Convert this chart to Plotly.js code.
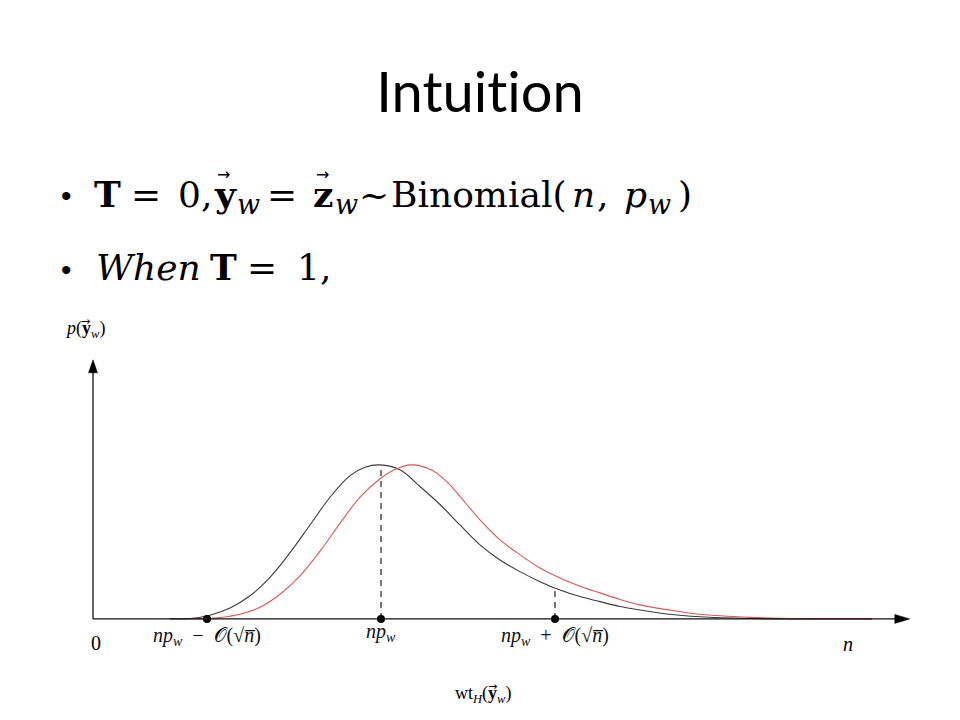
<!DOCTYPE html>
<html>
<head>
<meta charset="utf-8">
<script src="https://cdn.plot.ly/plotly-3.0.1.min.js"></script>
<style>html,body{margin:0;padding:0;background:#fff;}#chart{width:960px;height:720px;}</style>
</head>
<body>
<div id="chart"></div>
<script>
// Black curve: Binomial(n, p_w) density (T = 0)
const blackX = [9.625, 12.125, 14.625, 17.125, 19.625, 22.125, 24.625, 27.125, 29.625, 32.125, 34.0, 35.875, 38.375, 40.875, 43.375, 45.875, 48.375, 50.875, 53.375, 55.875, 58.375, 60.875, 63.375, 65.875, 68.375, 71.75, 75.875, 82.125, 88.375, 97.375];
const blackY = [0, 0.002, 0.024, 0.07, 0.15, 0.27, 0.43, 0.61, 0.79, 0.93, 0.985, 1.0, 0.968, 0.86, 0.743, 0.61, 0.481, 0.383, 0.307, 0.242, 0.188, 0.145, 0.112, 0.080, 0.058, 0.032, 0.014, 0.003, 0, 0];
// Red curve: shifted density (T = 1)
const redX = [12.125, 14.625, 15.875, 18.375, 20.875, 23.375, 25.875, 28.375, 30.875, 33.375, 35.875, 37.75, 39.75, 42.25, 44.25, 45.875, 48.375, 50.875, 53.375, 55.875, 58.375, 60.875, 63.375, 65.875, 68.375, 71.75, 75.875, 82.125, 88.375, 97.375];
const redY = [0, 0.002, 0.008, 0.03, 0.075, 0.16, 0.28, 0.44, 0.62, 0.79, 0.91, 0.97, 1.0, 0.968, 0.89, 0.795, 0.643, 0.513, 0.416, 0.331, 0.266, 0.212, 0.169, 0.126, 0.091, 0.06, 0.03, 0.01, 0.002, 0];
// Marked points on the weight axis
const markX = [14.25, 36, 57.75];
const markY = [0, 0, 0];
const markLabels = ['<i>np<sub>w</sub></i>\u2002−\u2002𝒪(√<i>n̅</i>)', '<i>np<sub>w</sub></i>', '<i>np<sub>w</sub></i>\u2002+\u2002𝒪(√<i>n̅</i>)'];
// Dashed guide heights (top of black curve at marks)
const guideX = [36, 57.75];
const guideTop = [1.0, 0.2];

const axisEndX = 102.1;
const axisEndY = 1.682;

const traces = [];
guideX.forEach((gx, i) => {
  traces.push({x: [gx, gx], y: [0, guideTop[i]], mode: 'lines', type: 'scatter',
    line: {color: '#222', width: 1.2, dash: '6px,5px'}, hoverinfo: 'skip', showlegend: false});
});
traces.push({x: blackX, y: blackY, mode: 'lines', type: 'scatter', line: {color: '#3a3a3a', width: 1.1, shape: 'spline', smoothing: 1}, showlegend: false, cliponaxis: false});
traces.push({x: redX, y: redY, mode: 'lines', type: 'scatter', line: {color: '#d9585a', width: 1.1, shape: 'spline', smoothing: 1}, showlegend: false, cliponaxis: false});
traces.push({x: markX, y: markY, mode: 'markers', type: 'scatter', marker: {color: '#000', size: 8}, showlegend: false, cliponaxis: false});

// plot area: px x 77..925 (848 wide), px y 350..642 (292 tall)
const px = v => (v - 77) / 848;
const py = v => (642 - v) / 292;

const serif = 'Liberation Serif, DejaVu Serif, serif';
const mathSerif = 'DejaVu Serif, Liberation Serif, serif';
const labelFont = {family: serif, size: 20, color: '#111'};
const annotations = [];
function tok(text, x, y, size, anchor, family) {
  annotations.push({x: px(x), y: py(y), xref: 'paper', yref: 'paper', text: text, showarrow: false,
    font: {family: family || mathSerif, size: size, color: '#000'}, xanchor: anchor || 'left', yanchor: 'middle'});
}
markLabels.forEach((t, i) => {
  annotations.push({x: markX[i], y: i === 1 ? -0.09 : -0.115, xref: 'x', yref: 'y', text: t, showarrow: false, font: labelFont, xanchor: 'center', yanchor: 'middle'});
});
tok('0', 96, 643, 20, 'center', serif);
tok('<i>n</i>', 848, 644, 20, 'center', serif);
// axis titles (vector arrow drawn above the bold y)
tok('wt<sub><i>H</i></sub>(<b>y</b><sub><i>w</i></sub>)', 483, 694, 18, 'center', serif);
tok('→', 492, 686, 11, 'center', 'DejaVu Sans');
tok('<i>p</i>(<b>y</b><sub><i>w</i></sub>)', 85, 329, 18, 'center', serif);
tok('→', 85, 321, 11, 'center', 'DejaVu Sans');

// Bullet text
const B = 36, S = 27;
const dotFamily = 'Liberation Sans, Arial';
tok('•', 66, 196, 30, 'center', dotFamily);
tok('<b>T</b>', 92, 194, B);
tok('=', 146, 194, B, 'center');
tok('0,', 176, 194, B);
tok('<b>y</b>', 212, 194, B);
tok('→', 223, 174, 16, 'center', 'DejaVu Sans');
tok('<i>w</i>', 235, 204, S);
tok('=', 282, 194, B, 'center');
tok('<b>z</b>', 311, 194, B);
tok('→', 322, 174, 16, 'center', 'DejaVu Sans');
tok('<i>w</i>', 333, 204, S);
tok('~', 357, 194, B);
tok('Binomial(', 389, 194, B);
tok('<i>n</i>', 570, 194, B);
tok(',', 595, 194, B);
tok('<i>p</i>', 622, 194, B);
tok('<i>w</i>', 646, 204, S);
tok(')', 676, 194, B);

tok('•', 66, 269, 30, 'center', dotFamily);
tok('<i>When</i>', 94, 267, B);
tok('<b>T</b>', 208, 267, B);
tok('=', 262, 267, B, 'center');
tok('1,', 295, 267, B);

const shapes = [
  {type: 'line', xref: 'x', yref: 'y', x0: 0, y0: 0, x1: axisEndX - 1.5, y1: 0, line: {color: '#111', width: 1.3}},
  {type: 'line', xref: 'x', yref: 'y', x0: 0, y0: 0, x1: 0, y1: axisEndY - 0.06, line: {color: '#111', width: 1.3}},
  {type: 'path', xref: 'x', yref: 'y', xsizemode: 'pixel', ysizemode: 'pixel', xanchor: axisEndX, yanchor: 0,
    path: 'M0,0 L-15,4.5 L-15,-4.5 Z', fillcolor: '#000', line: {color: '#000', width: 0.5}},
  {type: 'path', xref: 'x', yref: 'y', xsizemode: 'pixel', ysizemode: 'pixel', xanchor: 0, yanchor: axisEndY,
    path: 'M0,0 L-4.5,-13 L4.5,-13 Z', fillcolor: '#000', line: {color: '#000', width: 0.5}}
];

const layout = {
  width: 960, height: 720,
  paper_bgcolor: '#fff', plot_bgcolor: 'rgba(0,0,0,0)',
  margin: {l: 77, r: 35, t: 350, b: 78},
  title: {text: 'Intu\u200Cit\u200Cion', font: {family: 'Lato, Open Sans, sans-serif', size: 56, color: '#000'}, x: 0.5, xref: 'container', y: 1 - 92/720, yref: 'container', yanchor: 'middle'},
  xaxis: {range: [-2, 104], visible: false, fixedrange: true},
  yaxis: {range: [-0.15, 1.7461], visible: false, fixedrange: true},
  showlegend: false,
  annotations: annotations,
  shapes: shapes
};

Plotly.newPlot('chart', traces, layout, {displayModeBar: false, staticPlot: true});
</script>
</body>
</html>
